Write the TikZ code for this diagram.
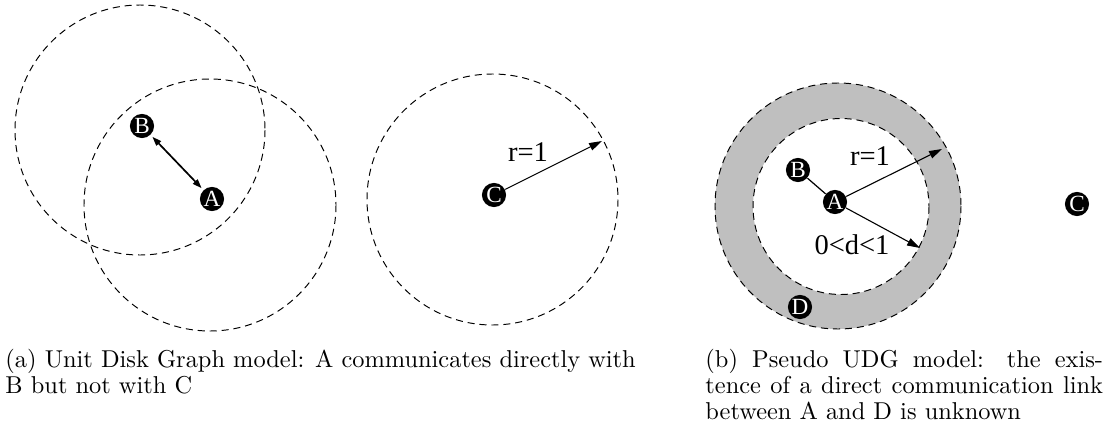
\documentclass[tikz,border=0pt]{standalone}
\usepackage{fontspec}
\newfontfamily\figfont{Liberation Serif}
\usetikzlibrary{arrows.meta}

\begin{document}
\begin{tikzpicture}[x=0.41pt, y=-0.41pt,
    station/.style={circle, fill=black, text=white, inner sep=0pt, minimum size=9.9pt,
        font=\figfont\fontsize{9.5}{9.5}\selectfont},
    reachline/.style={dash pattern=on 2.9pt off 2pt, line width=0.4pt},
    rarrow/.style={-{Triangle[length=5.3pt,width=3.2pt]}, line width=0.45pt},
    lbl/.style={font=\figfont\fontsize{11.7}{11.7}\selectfont, inner sep=0pt},
    capline/.style={anchor=base west, inner sep=0pt}]
\useasboundingbox (0,0) rectangle (1107,432);

% (a) unit disk graph
\draw[reachline] (140,130) circle (125);
\draw[reachline] (210,205) circle (126);
\draw[reachline] (492.5,199.5) circle (125.5);

\node[station] (B) at (142,126) {B};
\node[station] (A) at (212,199) {A};
\node[station] (C) at (494,195) {C};

\draw[{Triangle[length=3.8pt,width=2.6pt]}-{Triangle[length=3.8pt,width=2.6pt]}, line width=0.7pt,
    shorten <=1pt, shorten >=1pt] (B) -- (A);
\coordinate (edgeC) at (602,141);
\draw[rarrow] (C) -- (edgeC);
\node[lbl] (rC) at (528,152) {r=1};

% (b) pseudo unit disk graph
\fill[black!25] (838,206) circle (123);
\fill[white] (841,206.5) circle (88);
\draw[reachline] (838,206) circle (123);
\draw[reachline] (841,206.5) circle (88);

\node[station] (Bb) at (798,170) {B};
\node[station] (Ab) at (835,202) {A};
\node[station] (Db) at (800,307) {D};
\node[station] (Cb) at (1077,204) {C};

\draw[line width=0.5pt] (Bb) -- (Ab);
\coordinate (outer) at (942,149);
\coordinate (inner) at (920,248);
\draw[rarrow] (Ab) -- (outer);
\draw[rarrow] (Ab) -- (inner);
\node[lbl] (rb) at (870,156) {r=1};
\node[lbl] (db) at (852,245) {0<d<1};

% captions
\node[capline] (capa1) at (5,367) {(a) Unit Disk Graph model: A communicates directly with};
\node[capline] (capa2) at (5,393) {B but not with C};
\node[capline] (capb1) at (705,367) {\makebox[163pt][s]{(b) Pseudo UDG model: the exis-}};
\node[capline] (capb2) at (705,393) {\makebox[163pt][s]{tence of a direct communication link}};
\node[capline] (capb3) at (705,419) {between A and D is unknown};
\end{tikzpicture}
\end{document}
